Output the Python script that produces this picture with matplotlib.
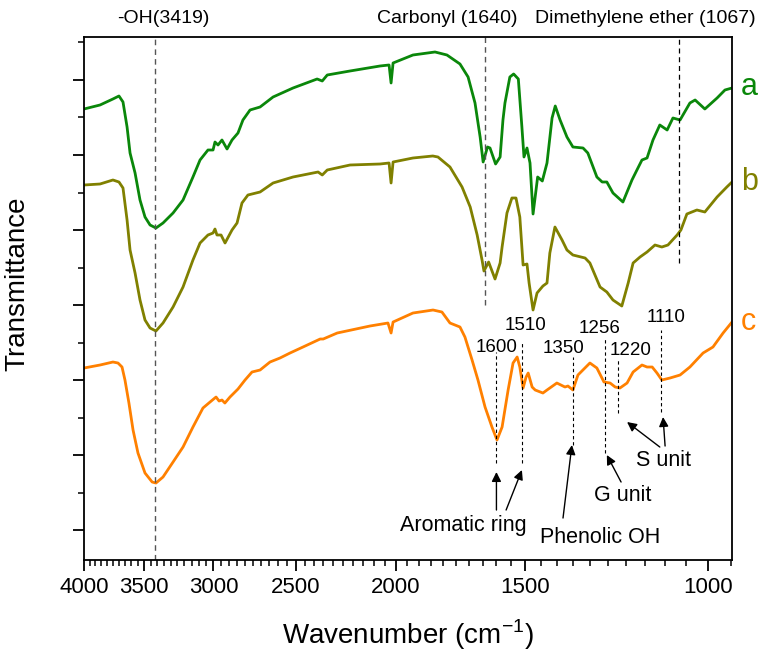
import numpy as np
import matplotlib
matplotlib.use('Agg')
from matplotlib import pyplot as plt
from matplotlib.ticker import FixedLocator, NullFormatter, FixedFormatter

plt.rcParams['font.family'] = ['Liberation Sans', 'DejaVu Sans']

# spectrum a (green) : wavenumber, transmittance (a.u.)
wn_a = [4000, 3860, 3751, 3701, 3668, 3635, 3611, 3571, 3532, 3493, 3454, 3409, 3356, 3282,
        3210, 3140, 3091, 3037, 3003, 2990, 2970, 2944, 2911, 2879, 2841, 2810, 2766, 2705,
        2628, 2514, 2383, 2356, 2330, 2215, 2072, 2031, 2022, 2013, 1926, 1834, 1786, 1735,
        1704, 1678, 1659, 1648, 1632, 1623, 1603, 1587, 1577, 1570, 1553, 1540, 1524, 1512,
        1505, 1495, 1485, 1475, 1460, 1445, 1430, 1414, 1404, 1389, 1368, 1350, 1320, 1306,
        1280, 1265, 1252, 1235, 1208, 1184, 1171, 1158, 1145, 1130, 1113, 1095, 1081, 1064,
        1041, 1029, 1007, 980, 963, 948]
tr_a = [451, 455, 461, 464, 458, 433, 407, 387, 360, 343, 335, 332, 337, 347,
        360, 383, 400, 410, 410, 418, 415, 420, 411, 420, 427, 440, 450, 453,
        463, 472, 481, 479, 485, 489, 494, 495, 477, 497, 505, 508, 505, 496,
        483, 457, 423, 398, 413, 412, 396, 403, 440, 457, 483, 486, 481, 433,
        403, 412, 397, 346, 383, 379, 397, 442, 454, 440, 423, 413, 412, 407,
        383, 378, 378, 367, 358, 380, 390, 400, 402, 420, 435, 430, 442, 440,
        457, 460, 451, 462, 470, 472]

# spectrum b (olive)
wn_b = [4000, 3860, 3751, 3701, 3668, 3635, 3611, 3571, 3532, 3493, 3454, 3409, 3356, 3282,
        3210, 3140, 3091, 3037, 3003, 2990, 2977, 2950, 2924, 2879, 2847, 2816, 2779, 2705,
        2628, 2514, 2378, 2356, 2330, 2215, 2072, 2031, 2022, 2013, 1926, 1843, 1822, 1774,
        1727, 1696, 1670, 1652, 1645, 1628, 1605, 1587, 1580, 1563, 1546, 1532, 1519, 1508,
        1495, 1488, 1475, 1462, 1443, 1430, 1421, 1405, 1383, 1368, 1350, 1314, 1300, 1271,
        1252, 1235, 1211, 1194, 1181, 1163, 1145, 1125, 1108, 1093, 1071, 1062, 1048, 1025,
        1007, 980, 959, 948]
tr_b = [375, 376, 380, 378, 372, 340, 310, 287, 260, 240, 232, 229, 237, 253,
        273, 300, 317, 325, 327, 331, 325, 325, 317, 330, 337, 357, 365, 368,
        377, 383, 388, 385, 390, 395, 396, 397, 377, 398, 402, 404, 403, 393,
        373, 353, 325, 300, 289, 298, 281, 297, 313, 347, 362, 362, 343, 295,
        296, 277, 250, 267, 274, 277, 307, 333, 320, 310, 305, 302, 297, 273,
        268, 260, 254, 277, 297, 303, 308, 315, 313, 315, 325, 330, 346, 350,
        348, 363, 373, 378]

# spectrum c (orange)
wn_c = [4000, 3860, 3751, 3709, 3676, 3652, 3620, 3587, 3548, 3493, 3438, 3409, 3356, 3282,
        3210, 3140, 3071, 3023, 2983, 2963, 2944, 2925, 2892, 2841, 2797, 2754, 2705, 2646,
        2588, 2531, 2459, 2367, 2351, 2279, 2119, 2036, 2022, 2013, 1926, 1842, 1806, 1774,
        1735, 1716, 1689, 1667, 1641, 1616, 1598, 1580, 1559, 1542, 1528, 1519, 1508, 1498,
        1491, 1478, 1468, 1443, 1430, 1399, 1374, 1365, 1350, 1335, 1300, 1280, 1260, 1243,
        1229, 1216, 1197, 1181, 1158, 1145, 1132, 1120, 1108, 1088, 1064, 1041, 1011, 989,
        967, 948]
tr_c = [192, 195, 198, 197, 193, 180, 157, 130, 107, 87, 78, 77, 83, 98,
        113, 133, 152, 158, 163, 159, 160, 157, 163, 171, 180, 188, 190, 198,
        202, 207, 213, 221, 221, 227, 234, 237, 227, 238, 247, 250, 248, 237,
        233, 223, 200, 180, 153, 133, 120, 133, 170, 197, 203, 193, 172, 183,
        187, 173, 170, 167, 170, 177, 173, 174, 170, 185, 197, 192, 178, 177,
        173, 172, 177, 188, 195, 193, 193, 187, 180, 182, 185, 193, 207, 213,
        227, 238]

green = '#0a870a'
olive = '#808000'
orange = '#ff8000'

fig = plt.figure(figsize=(7.65, 6.57), dpi=100)
ax = fig.add_axes([0.1098, 0.1476, 0.8471, 0.7961])

ax.plot(wn_a, tr_a, color=green, lw=2)
ax.plot(wn_b, tr_b, color=olive, lw=2)
ax.plot(wn_c, tr_c, color=orange, lw=2)

ax.set_xscale('log')
ax.set_xlim(4000, 948)
ax.set_ylim(0, 523)

major_x = [4000, 3500, 3000, 2500, 2000, 1500, 1000]
minor_x = [v for v in range(950, 4001, 50) if v not in major_x]
ax.xaxis.set_major_locator(FixedLocator(major_x))
ax.xaxis.set_major_formatter(FixedFormatter([str(v) for v in major_x]))
ax.xaxis.set_minor_locator(FixedLocator(minor_x))
ax.xaxis.set_minor_formatter(NullFormatter())
ax.yaxis.set_major_locator(FixedLocator([30 + 75 * k for k in range(7)]))
ax.yaxis.set_minor_locator(FixedLocator([67.5 + 75 * k for k in range(7)]))
ax.yaxis.set_major_formatter(NullFormatter())
ax.tick_params(which='major', direction='out', length=8, width=1.3, labelsize=16)
ax.tick_params(which='minor', direction='out', length=4.5, width=1.1)
ax.tick_params(axis='x', pad=4)
for s in ax.spines.values():
    s.set_linewidth(1.3)

ax.set_xlabel('Wavenumber (cm$^{\\mathregular{-1}}$)', fontsize=20, labelpad=14)
ax.set_ylabel('Transmittance', fontsize=20)
ax.yaxis.set_label_coords(-0.083, 0.528)

# band guide lines
ax.axvline(3419, color='#555555', ls=(0, (4, 3)), lw=1)
ax.vlines(1640, 255, 523, color='#555555', ls=(0, (4, 3)), lw=1)
ax.vlines(1067, 297, 523, color='k', ls=(0, (4, 3)), lw=0.9)

top = ax.get_xaxis_transform()
ax.text(3356, 1.036, '-OH(3419)', transform=top, ha='center', va='center', fontsize=14)
ax.text(1786, 1.036, 'Carbonyl (1640)', transform=top, ha='center', va='center', fontsize=14)
ax.text(1.037, 1.036, 'Dimethylene ether (1067)', transform=ax.transAxes,
        ha='right', va='center', fontsize=14)

# series labels
ax.text(929, 473, 'a', color=green, fontsize=22, va='center', ha='left', clip_on=False)
ax.text(929, 378, 'b', color=olive, fontsize=22, va='center', ha='left', clip_on=False)
ax.text(929, 238, 'c', color=orange, fontsize=22, va='center', ha='left', clip_on=False)

# peak markers on spectrum c
peaks = [1600, 1510, 1350, 1256, 1220, 1110]
peak_lo = [97, 97, 115, 107, 147, 148]
peak_hi = [208, 218, 203, 222, 200, 230]
label_x = [1600, 1499, 1377, 1271, 1189, 1098]
label_y = [213, 235, 212, 232, 210, 243]
for p, lo, hi, lx, ly in zip(peaks, peak_lo, peak_hi, label_x, label_y):
    ax.vlines(p, lo, hi, color='k', ls=(0, (3, 2.5)), lw=0.8)
    ax.text(lx, ly, str(p), ha='center', va='center', fontsize=13.5)

arrow = dict(arrowstyle='-|>', color='k', lw=1, mutation_scale=14, shrinkA=0, shrinkB=0)
ax.annotate('', xy=(1600, 88), xytext=(1600, 50), arrowprops=arrow)
ax.annotate('', xy=(1512, 90), xytext=(1566, 50), arrowprops=arrow)
ax.annotate('', xy=(1353, 115), xytext=(1380, 42), arrowprops=arrow)
ax.annotate('', xy=(1252, 105), xytext=(1213, 78), arrowprops=arrow)
ax.annotate('', xy=(1197, 138), xytext=(1113, 113), arrowprops=arrow)
ax.annotate('', xy=(1105, 143), xytext=(1100, 114), arrowprops=arrow)

ax.text(1723, 35, 'Aromatic ring', ha='center', va='center', fontsize=15.5, clip_on=False)
ax.text(1271, 23, 'Phenolic OH', ha='center', va='center', fontsize=15.5, clip_on=False)
ax.text(1208, 65, 'G unit', ha='center', va='center', fontsize=15.5)
ax.text(1105, 100, 'S unit', ha='center', va='center', fontsize=15.5)

fig.savefig('out.png', dpi=100)
